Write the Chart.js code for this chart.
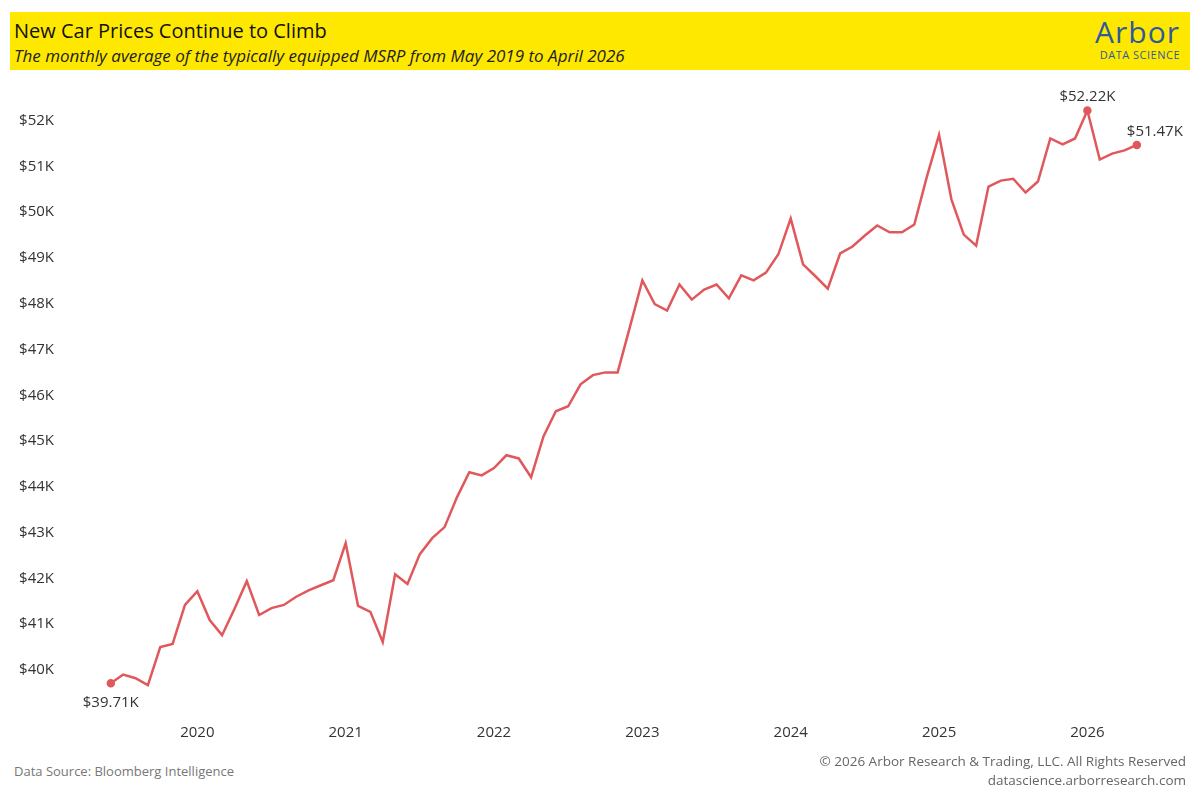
<!DOCTYPE html>
<html lang="en">
<head>
<meta charset="UTF-8">
<title>New Car Prices Continue to Climb</title>
<script src="https://cdn.jsdelivr.net/npm/chart.js"></script>
<style>
    body { margin: 0; width: 1200px; height: 800px; background: #fff; font-family: "Open Sans", "Noto Sans", sans-serif; position: relative; overflow: hidden; }
    .banner { position: absolute; left: 10px; top: 12px; width: 1180px; height: 58px; background: #ffe800; }
    .title { position: absolute; left: 4px; top: 5px; font-size: 20px; color: #111; }
    .subtitle { position: absolute; left: 4px; top: 32px; font-size: 17px; font-style: italic; color: #222; }
    .logo { position: absolute; right: 10px; top: 2px; text-align: right; color: #2f5a9c; }
    .logo .big { font-size: 30px; letter-spacing: 1px; line-height: 36px; }
    .logo .small { font-size: 11px; letter-spacing: 0.5px; margin-top: -3px; }
    .chart-wrap { position: absolute; left: 0; top: 67px; width: 1200px; height: 689px; }
    .src { position: absolute; left: 14px; top: 762px; font-size: 13px; color: #777; }
    .copy { position: absolute; right: 14px; top: 752px; font-size: 13.5px; color: #666; text-align: right; line-height: 19px; }
</style>
</head>
<body>
<div class="banner">
    <div class="title">New Car Prices Continue to Climb</div>
    <div class="subtitle">The monthly average of the typically equipped MSRP from May 2019 to April 2026</div>
    <div class="logo"><div class="big">Arbor</div><div class="small">DATA SCIENCE</div></div>
</div>
<div class="chart-wrap"><canvas id="c"></canvas></div>
<div class="src">Data Source: Bloomberg Intelligence</div>
<div class="copy">© 2026 Arbor Research &amp; Trading, LLC. All Rights Reserved<br>datascience.arborresearch.com</div>
<script>
// monthly average MSRP, thousands of dollars
const prices = [
    39.71, 39.9, 39.82, 39.67, 40.5, 40.57, 41.42, 41.72, 41.09, 40.76, 41.33, 41.94,
    41.2, 41.35, 41.42, 41.6, 41.74, 41.85, 41.96, 42.77, 41.4, 41.27, 40.61, 42.09,
    41.88, 42.53, 42.88, 43.12, 43.77, 44.32, 44.25, 44.41, 44.69, 44.62, 44.21, 45.1,
    45.65, 45.76, 46.24, 46.44, 46.5, 46.5, 47.5, 48.51, 47.99, 47.85, 48.42, 48.09,
    48.31, 48.42, 48.12, 48.62, 48.51, 48.68, 49.08, 49.86, 48.86, 48.6, 48.33, 49.1,
    49.25, 49.49, 49.71, 49.56, 49.56, 49.73, 50.76, 51.69, 50.28, 49.51, 49.27, 50.56,
    50.69, 50.73, 50.43, 50.67, 51.61, 51.48, 51.61, 52.22, 51.15, 51.28, 51.35, 51.47
];
const firstYear = 2020;
const firstJanIndex = 7;
const yearLabels = [2020, 2021, 2022, 2023, 2024, 2025, 2026];

const points = prices.map((v, i) => ({ x: i, y: v }));
const maxIdx = prices.indexOf(Math.max(...prices));
const lastIdx = prices.length - 1;
const marked = [0, maxIdx, lastIdx];

const labelPlugin = {
    id: 'labels',
    afterDatasetsDraw(chart) {
        const ctx = chart.ctx;
        const meta = chart.getDatasetMeta(0);
        ctx.save();
        ctx.font = '15px "Open Sans", sans-serif';
        ctx.fillStyle = '#333';
        ctx.textAlign = 'center';
        let p = meta.data[0];
        ctx.fillText('$' + prices[0].toFixed(2) + 'K', p.x, p.y + 24);
        p = meta.data[maxIdx];
        ctx.fillText('$' + prices[maxIdx].toFixed(2) + 'K', p.x, p.y - 10);
        p = meta.data[lastIdx];
        ctx.textAlign = 'left';
        ctx.fillText('$' + prices[lastIdx].toFixed(2) + 'K', p.x - 10, p.y - 9);
        ctx.restore();
    }
};

new Chart(document.getElementById('c'), {
    type: 'line',
    data: {
        datasets: [{
            data: points,
            borderColor: '#e0585b',
            backgroundColor: '#e0585b',
            borderWidth: 2.5,
            tension: 0,
            pointRadius: points.map((p, i) => marked.includes(i) ? 3 : 0),
            pointHoverRadius: 0
        }]
    },
    options: {
        responsive: true,
        maintainAspectRatio: false,
        animation: false,
        layout: { padding: { top: 3, right: 10, bottom: 0 } },
        plugins: { legend: { display: false }, tooltip: { enabled: false } },
        scales: {
            x: {
                type: 'linear',
                min: -3.3,
                max: 87.3,
                grid: { display: false },
                border: { display: false },
                afterBuildTicks(axis) {
                    axis.ticks = yearLabels.map(y => ({ value: firstJanIndex + (y - firstYear) * 12 }));
                },
                ticks: {
                    color: '#333',
                    font: { size: 15, family: '"Open Sans", sans-serif' },
                    padding: 14,
                    maxRotation: 0,
                    callback: v => firstYear + Math.round((v - firstJanIndex) / 12)
                }
            },
            y: {
                min: 39.3,
                max: 52.8,
                grid: { display: false },
                border: { display: false },
                afterFit(axis) { axis.width = 70; },
                afterBuildTicks(axis) {
                    const t = [];
                    for (let v = 40; v <= 52; v++) t.push({ value: v });
                    axis.ticks = t;
                },
                ticks: {
                    color: '#333',
                    font: { size: 15, family: '"Open Sans", sans-serif' },
                    padding: 8,
                    callback: v => '$' + v + 'K'
                }
            }
        }
    },
    plugins: [labelPlugin]
});
</script>
</body>
</html>
